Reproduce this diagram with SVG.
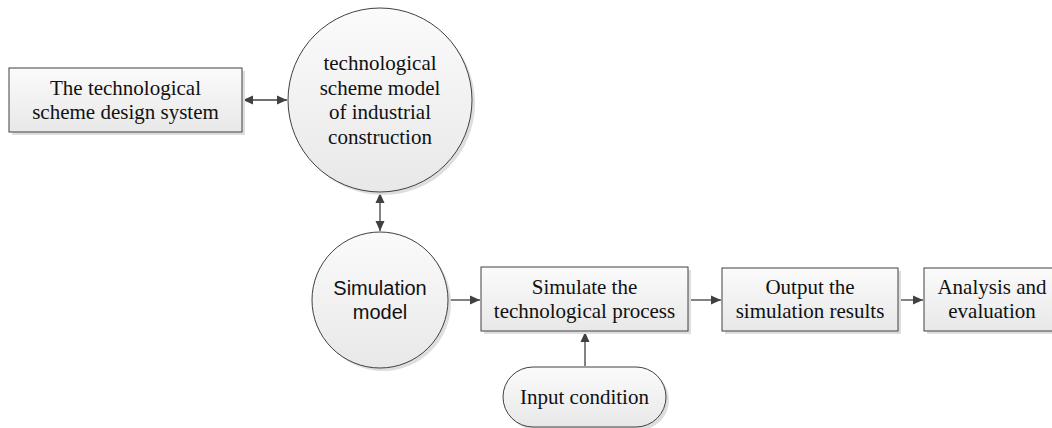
<svg xmlns="http://www.w3.org/2000/svg" width="1052" height="428" viewBox="0 0 1052 428">
<defs>
<linearGradient id="g" x1="0" y1="0" x2="0" y2="1">
<stop offset="0" stop-color="#fbfbfb"/>
<stop offset="1" stop-color="#e8e8e8"/>
</linearGradient>
<marker id="ah" viewBox="0 0 10 10" refX="10" refY="5" markerWidth="10" markerHeight="10" markerUnits="userSpaceOnUse" orient="auto-start-reverse">
<path d="M0,0.5 L10,5 L0,9.5 Z" fill="#404040"/>
</marker>
</defs>
<style>
.shape{fill:url(#g);stroke:#404040;stroke-width:1}
.sh{fill:#dedede;stroke:none}
.t{font-family:"Liberation Serif","Times New Roman",serif;font-size:21px;fill:#111;text-anchor:middle}
.s{font-family:"Liberation Sans",Arial,sans-serif;font-size:20px;fill:#111;text-anchor:middle}
.c{fill:none;stroke:#404040;stroke-width:1.3}
</style>
<rect width="1052" height="428" fill="#ffffff"/>
<g id="connectors">
<line class="c" x1="243" y1="100" x2="287" y2="100" marker-start="url(#ah)" marker-end="url(#ah)"/>
<line class="c" x1="380" y1="193" x2="380" y2="231" marker-start="url(#ah)" marker-end="url(#ah)"/>
<line class="c" x1="449" y1="300" x2="480" y2="300" marker-end="url(#ah)"/>
<line class="c" x1="689" y1="300" x2="721" y2="300" marker-end="url(#ah)"/>
<line class="c" x1="899" y1="300" x2="923" y2="300" marker-end="url(#ah)"/>
<line class="c" x1="585" y1="366" x2="585" y2="332" marker-end="url(#ah)"/>
</g>
<g id="n_design">
<rect class="sh" x="12" y="71" width="233" height="64"/>
<rect class="shape" x="9" y="68" width="233" height="64"/>
<text class="t" x="125.5" y="95">The technological</text>
<text class="t" x="125.5" y="119">scheme design system</text>
</g>
<g id="n_scheme">
<circle class="sh" cx="383" cy="103" r="92"/>
<circle class="shape" cx="380" cy="100" r="92"/>
<text class="t" x="380" y="70">technological</text>
<text class="t" x="380" y="94.5">scheme model</text>
<text class="t" x="380" y="119">of industrial</text>
<text class="t" x="380" y="143.5">construction</text>
</g>
<g id="n_sim">
<circle class="sh" cx="383" cy="303" r="68"/>
<circle class="shape" cx="380" cy="300" r="68"/>
<text class="s" x="380" y="295">Simulation</text>
<text class="s" x="380" y="319">model</text>
</g>
<g id="n_process">
<rect class="sh" x="484" y="270" width="207" height="64"/>
<rect class="shape" x="481" y="267" width="207" height="64"/>
<text class="t" x="584.5" y="294">Simulate the</text>
<text class="t" x="584.5" y="318">technological process</text>
</g>
<g id="n_output">
<rect class="sh" x="725" y="271" width="176" height="63"/>
<rect class="shape" x="722" y="268" width="176" height="63"/>
<text class="t" x="810" y="294">Output the</text>
<text class="t" x="810" y="318">simulation results</text>
</g>
<g id="n_analysis">
<rect class="sh" x="927" y="271" width="136" height="63"/>
<rect class="shape" x="924" y="268" width="136" height="63"/>
<text class="t" x="992" y="294">Analysis and</text>
<text class="t" x="992" y="318">evaluation</text>
</g>
<g id="n_input">
<rect class="sh" x="506" y="370" width="163" height="60" rx="30"/>
<rect class="shape" x="503" y="367" width="163" height="60" rx="30"/>
<text class="t" x="584.5" y="404">Input condition</text>
</g>
</svg>
